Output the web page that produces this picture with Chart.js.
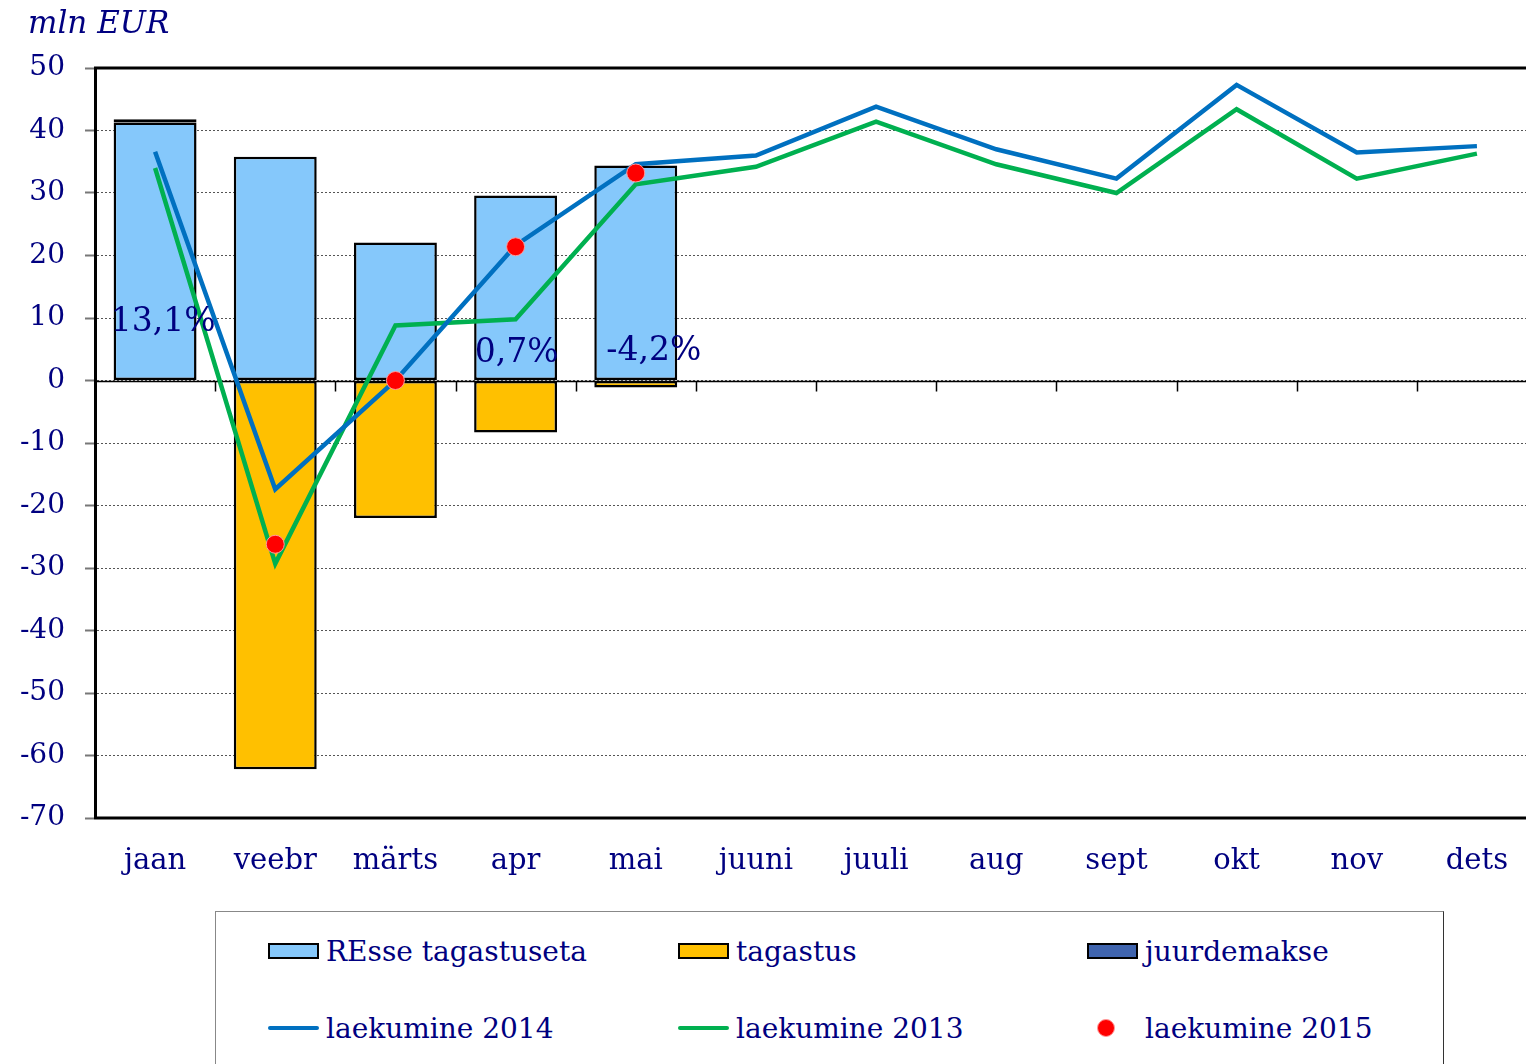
<!DOCTYPE html>
<html>
<head>
<meta charset="utf-8">
<script src="https://cdn.jsdelivr.net/npm/chart.js@4/dist/chart.umd.min.js"></script>
<style>
  html, body { margin: 0; padding: 0; background: #fff; overflow: hidden; }
  #wrap { position: relative; width: 1526px; height: 1064px; overflow: hidden; }
  #c { position: absolute; left: 0; top: 0; }
  #title { position: absolute; left: 28px; top: 4px; font: italic 31px 'DejaVu Serif', serif; color: #000080; }
  #legend { position: absolute; left: 215px; top: 911px; width: 1229px; height: 200px; border: 1px solid #888; border-right-color: #333; box-sizing: border-box; }
  .item { position: absolute; display: flex; align-items: center; height: 40px; font: 28px 'DejaVu Serif', serif; color: #000080; white-space: nowrap; }
  .sw { width: 51px; display: flex; align-items: center; justify-content: center; margin-right: 7px; }
  .box { width: 47px; height: 12px; border: 2px solid #000; }
  .ln { width: 51px; height: 4px; border-radius: 2px; }
  .dot { width: 18px; height: 18px; border-radius: 50%; background: #f00; box-sizing: border-box; border: 1px solid #ff9a9a; margin-right: 14px; }
</style>
</head>
<body>
<div id="wrap">
  <canvas id="c" width="1547" height="900"></canvas>
  <div id="title">mln EUR</div>
  <div id="legend"></div>
</div>
<script>
const categories = ['jaan', 'veebr', 'märts', 'apr', 'mai', 'juuni', 'juuli', 'aug', 'sept', 'okt', 'nov', 'dets'];
const resseValues = [41.3, 35.8, 22.1, 29.6, 34.4, null, null, null, null, null, null, null];
const tagastusValues = [null, -62.2, -22.0, -8.3, -1.1, null, null, null, null, null, null, null];
const juurdemakseValues = [0.5, null, null, null, null, null, null, null, null, null, null, null];
const laekumine2014 = [36.6, -17.4, 0.0, 21.6, 34.6, 36.0, 43.8, 37.0, 32.3, 47.3, 36.5, 37.5];
const laekumine2013 = [34.0, -29.3, 8.8, 9.8, 31.4, 34.2, 41.4, 34.6, 30.0, 43.4, 32.3, 36.3];
const laekumine2015 = [null, -26.2, 0.0, 21.4, 33.2, null, null, null, null, null, null, null];
const pctLabels = ['13,1%', null, null, '0,7%', '-4,2%'];
const yMin = -70, yMax = 50, yStep = 10;

const NAVY = '#000080';
const FONT = "'DejaVu Serif', serif";

// extra chart decorations: solid frame lines, zero axis with category ticks, % labels
const decor = {
  id: 'decor',
  beforeDatasetsDraw(chart) {
    const { ctx, chartArea: a, scales: { x, y } } = chart;
    const y0 = Math.round(y.getPixelForValue(0)) + 0.5;
    ctx.save();
    ctx.strokeStyle = '#000';
    ctx.lineWidth = 1.5;
    ctx.beginPath();
    ctx.moveTo(a.left, y0); ctx.lineTo(a.right, y0);
    for (let i = 1; i < categories.length; i++) {
      const bx = Math.round(x.left + (x.width / categories.length) * i) + 0.5;
      ctx.moveTo(bx, y0); ctx.lineTo(bx, y0 + 10);
    }
    ctx.stroke();
    ctx.restore();
  },
  afterDatasetsDraw(chart) {
    const { ctx, chartArea: a, scales: { x, y } } = chart;
    ctx.save();
    ctx.strokeStyle = '#000';
    ctx.lineWidth = 3;
    ctx.beginPath();
    ctx.moveTo(a.left - 1, a.top); ctx.lineTo(a.right + 5, a.top);
    ctx.moveTo(a.left - 1, a.bottom); ctx.lineTo(a.right + 5, a.bottom);
    ctx.stroke();

    const at = { 0: [8, 9.3], 3: [1, 4.4], 4: [18, 4.6] };
    ctx.fillStyle = NAVY;
    ctx.font = '33px ' + FONT;
    ctx.textAlign = 'center';
    ctx.textBaseline = 'middle';
    pctLabels.forEach((t, i) => {
      if (!t) return;
      const p = at[i] || [0, 5];
      ctx.fillText(t, x.getPixelForValue(i) + p[0], y.getPixelForValue(p[1]));
    });
    ctx.restore();
  }
};

const datasets = [
  { type: 'line', label: 'laekumine 2015', data: laekumine2015, showLine: false, stack: 's3',
    pointRadius: 9, pointBackgroundColor: '#ff0000', pointBorderColor: '#ff9a9a', pointBorderWidth: 1, order: 0 },
  { type: 'line', label: 'laekumine 2014', data: laekumine2014, borderColor: '#0070C0', backgroundColor: '#0070C0',
    borderWidth: 4.5, pointRadius: 0, tension: 0, stack: 's1', order: 1 },
  { type: 'line', label: 'laekumine 2013', data: laekumine2013, borderColor: '#00B050', backgroundColor: '#00B050',
    borderWidth: 4.5, pointRadius: 0, tension: 0, stack: 's2', order: 2 },
  { type: 'bar', label: 'REsse tagastuseta', data: resseValues, backgroundColor: '#85C8FB', borderColor: '#000',
    borderWidth: 2.5, borderSkipped: false, stack: 'bars', order: 3 },
  { type: 'bar', label: 'tagastus', data: tagastusValues, backgroundColor: '#FFC000', borderColor: '#000',
    borderWidth: 2.5, borderSkipped: false, stack: 'bars', order: 3 },
  { type: 'bar', label: 'juurdemakse', data: juurdemakseValues, backgroundColor: '#3F64AE', borderColor: '#000',
    borderWidth: 2.5, borderSkipped: false, stack: 'bars', order: 3 }
];

const chart = new Chart(document.getElementById('c'), {
  type: 'bar',
  data: { labels: categories, datasets },
  options: {
    responsive: false,
    animation: false,
    layout: { padding: { top: 68, left: 0, right: 5, bottom: 0 } },
    datasets: { bar: { barPercentage: 0.69, categoryPercentage: 1 } },
    scales: {
      x: {
        type: 'category',
        stacked: true,
        grid: { display: false, drawTicks: false },
        border: { display: false },
        ticks: { color: NAVY, font: { family: FONT, size: 29 }, padding: 26, maxRotation: 0, autoSkip: false },
        afterFit: s => { s.height = 82; }
      },
      y: {
        type: 'linear',
        stacked: true,
        min: yMin, max: yMax,
        ticks: { stepSize: yStep, color: NAVY, font: { family: FONT, size: 28 }, padding: 20 },
        grid: { color: '#555', lineWidth: 1, tickLength: 10, tickColor: '#777', tickWidth: 2 },
        border: { color: '#000', width: 3, dash: [2, 2] },
        afterFit: s => { s.width = 95; }
      }
    },
    plugins: { legend: { display: false }, tooltip: { enabled: false } }
  },
  plugins: [decor]
});

// HTML legend in the reference's 3x2 layout
const legendOrder = ['REsse tagastuseta', 'tagastus', 'juurdemakse', 'laekumine 2014', 'laekumine 2013', 'laekumine 2015'];
const colX = [52, 462, 871];
const rowY = [19, 96];
const legendEl = document.getElementById('legend');
legendOrder.forEach((name, k) => {
  const ds = chart.data.datasets.find(d => d.label === name);
  const item = document.createElement('div');
  item.className = 'item';
  item.style.left = colX[k % 3] + 'px';
  item.style.top = rowY[Math.floor(k / 3)] + 'px';
  const sw = document.createElement('div');
  sw.className = 'sw';
  const mark = document.createElement('div');
  if (ds.type === 'bar') { mark.className = 'box'; mark.style.background = ds.backgroundColor; }
  else if (ds.showLine !== false) { mark.className = 'ln'; mark.style.background = ds.borderColor; }
  else { mark.className = 'dot'; }
  sw.appendChild(mark);
  item.appendChild(sw);
  item.appendChild(document.createTextNode(name));
  legendEl.appendChild(item);
});
</script>
</body>
</html>
